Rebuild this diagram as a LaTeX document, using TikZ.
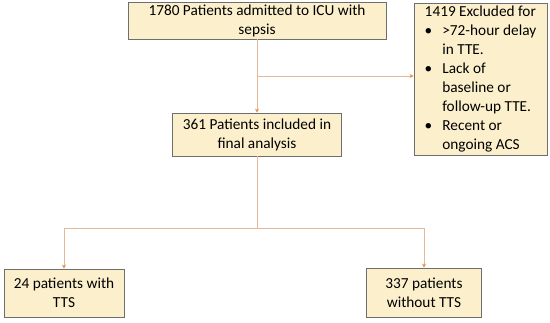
\documentclass[tikz,border=0pt]{standalone}
\usepackage{fontspec}
\setmainfont{Carlito}
\usepackage{tikz}
\usetikzlibrary{positioning,arrows.meta,calc}
\definecolor{boxfill}{RGB}{252,240,204}
\definecolor{boxline}{RGB}{110,110,110}
\definecolor{linktan}{RGB}{228,186,154}
\definecolor{tiporange}{RGB}{230,140,80}

\begin{document}
\begin{tikzpicture}[x=1pt, y=-1pt,
    fbox/.style={draw=boxline, fill=boxfill, line width=0.9pt, align=center, inner sep=1pt,
                 font=\fontsize{15.3}{19}\selectfont},
    link/.style={draw=linktan, line width=0.9pt},
    arr/.style={link, -{Stealth[length=4pt, width=4pt, color=tiporange]}}
]
\useasboundingbox (0,0) rectangle (550,323);
\node[fbox, minimum width=258pt, minimum height=37pt] (adm)   at (257,20.5)  {1780 Patients admitted to ICU with\\sepsis};
\node[fbox, minimum width=133pt, minimum height=152pt, inner sep=0pt] (excl) at (480.5,79) {%
  \begin{tabular}{@{}l@{\hspace{10pt}}l@{}}
  \multicolumn{2}{@{}l@{}}{1419 Excluded for}\\
  \textbullet & >72-hour delay\\
              & in TTE.\\
  \textbullet & Lack of\\
              & baseline or\\
              & follow-up TTE.\\
  \textbullet & Recent or\\
              & ongoing ACS
  \end{tabular}};
\node[fbox, minimum width=169pt, minimum height=43pt] (incl)  at (257,134.5) {361 Patients included in\\final analysis};
\node[fbox, minimum width=120pt, minimum height=48pt] (tts)   at (64,293)    {24 patients with\\TTS};
\node[fbox, minimum width=115pt, minimum height=49pt] (notts) at (424,292.5) {337 patients\\without TTS};
% connectors
\coordinate (split) at (257,76);
\coordinate (fork)  at (257,228);
\draw[arr] (adm.south) -- (incl.north);
\draw[arr] (split) -- (split -| excl.west);
\draw[link] (incl.south) -- (fork);
\draw[arr] (fork) -| (tts.north);
\draw[arr] (fork) -| (notts.north);
\end{tikzpicture}
\end{document}
